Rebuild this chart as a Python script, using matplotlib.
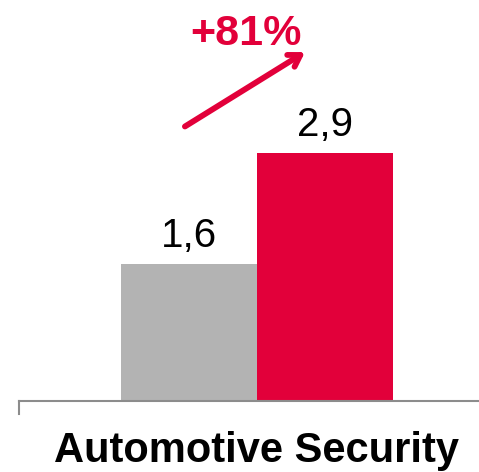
import matplotlib.pyplot as plt

# values
labels = ["1,6", "2,9"]
values = [1.6, 2.9]
colors = ["#B3B3B3", "#E2003A"]
category = "Automotive Security"
growth = "+81%"

red = "#E2003A"
plt.rcParams['font.family'] = ['Liberation Sans', 'DejaVu Sans']

fig = plt.figure(figsize=(4.79, 4.72), dpi=100)
W, H = 479, 472
base_y = 401
ax = fig.add_axes([19 / W, (H - base_y) / H, (W - 19) / W, base_y / H])

px_per_unit = 248 / 2.9
ax.bar([0, 1], values, width=1.0, color=colors)
ax.set_xlim(-1.25, 1.5 + 86 / 136)
ax.set_ylim(0, base_y / px_per_unit)

for x, v, lab in zip([0, 1], values, labels):
    ax.text(x, v + 0.2, lab, ha='center', va='baseline', fontsize=29, color='black')

# growth arrow
ax.annotate("", xy=(0.853, 4.08), xytext=(-0.03, 3.21),
            arrowprops=dict(arrowstyle='->,head_length=0.8,head_width=0.5',
                            color=red, lw=4.2, shrinkA=0, shrinkB=0))
ax.text(0.42, 4.16, growth, ha='center', va='baseline', fontsize=31,
        fontweight='bold', color=red)

# axis styling
for s in ['top', 'right', 'left']:
    ax.spines[s].set_visible(False)
ax.spines['bottom'].set_color('#8C8C8C')
ax.spines['bottom'].set_linewidth(1.5)
ax.set_yticks([])
ax.set_xticks([])
ax.plot([-1.25, -1.25], [0, -13 / px_per_unit], color='#8C8C8C', lw=1.5,
        clip_on=False)

fig.text(257 / W, 1 - 462 / H, category, ha='center', va='baseline',
         fontsize=30, fontweight='bold', color='black')

fig.savefig("out.png", dpi=100)
